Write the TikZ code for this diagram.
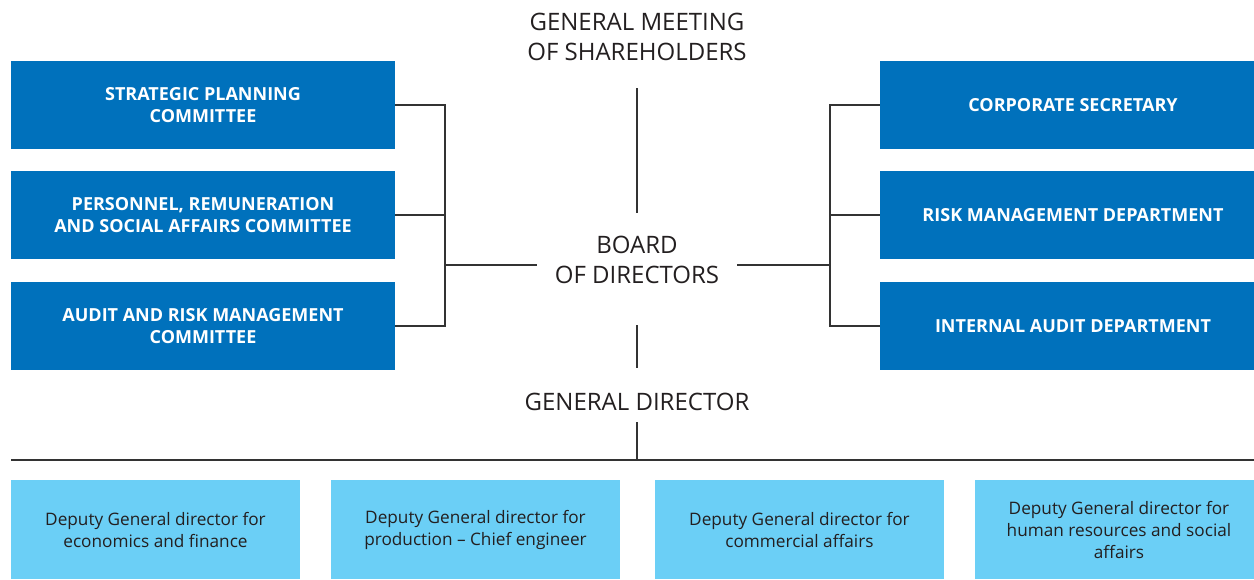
\documentclass[tikz,border=0pt]{standalone}
\usepackage{fontspec}
\setmainfont{Open Sans}
\definecolor{dblue}{HTML}{0071BC}
\definecolor{lblue}{HTML}{6BCFF6}
\definecolor{ink}{HTML}{231F20}
\definecolor{linec}{HTML}{333333}
\begin{document}
\begin{tikzpicture}[x=1pt,y=-1pt,
  title/.style={align=center,text=ink,font=\fontsize{24}{29.5}\selectfont,inner sep=0pt},
  topbox/.style={fill=dblue,text=white,align=center,font=\bfseries\fontsize{18}{22}\selectfont,inner sep=0pt,minimum height=88},
  lbox/.style={topbox,minimum width=384},
  rbox/.style={topbox,minimum width=386},
  deputy/.style={fill=lblue,text=ink,align=center,font=\fontsize{17.2}{22}\selectfont,inner sep=0pt,minimum height=99},
  conn/.style={draw=linec,line width=1.6pt}]
\useasboundingbox (0,0) rectangle (1254,579);
% titles
\node[title] (meet) at (637,37) {GENERAL MEETING\\OF SHAREHOLDERS};
\node[title,inner xsep=18pt] (board) at (637,260) {BOARD\\OF DIRECTORS};
\node[title] (gd) at (637,402) {GENERAL DIRECTOR};
% left committees
\node[lbox] (sp) at (203,105) {STRATEGIC PLANNING\\COMMITTEE};
\node[lbox] (pr) at (203,215) {PERSONNEL, REMUNERATION\\AND SOCIAL AFFAIRS COMMITTEE};
\node[lbox] (ar) at (203,326) {AUDIT AND RISK MANAGEMENT\\COMMITTEE};
% right departments
\node[rbox] (cs) at (1073,105) {CORPORATE SECRETARY};
\node[rbox] (rm) at (1073,215) {RISK MANAGEMENT DEPARTMENT};
\node[rbox] (ia) at (1073,326) {INTERNAL AUDIT DEPARTMENT};
% deputies
\node[deputy,minimum width=289] (d1) at (155.5,529.5) {Deputy General director for\\economics and finance};
\node[deputy,minimum width=289] (d2) at (475.5,529.5) {Deputy General director for\\production -- Chief engineer};
\node[deputy,minimum width=289] (d3) at (799.5,529.5) {Deputy General director for\\commercial affairs};
\node[deputy,minimum width=288] (d4) at (1119,529.5) {Deputy General director for\\human resources and social\\affairs};
% connectors
\coordinate (lbus) at (445,265);
\coordinate (rbus) at (830,265);
\draw[conn] (sp.east) -| (lbus |- ar.east) -- (ar.east);
\draw[conn] (pr.east) -- (lbus |- pr.east);
\draw[conn] (lbus) -- (board.west |- lbus);
\draw[conn] (cs.west) -| (rbus |- ia.west) -- (ia.west);
\draw[conn] (rm.west) -- (rbus |- rm.west);
\draw[conn] (rbus) -- (board.east |- rbus);
\draw[conn] (meet.south |- 0,88) -- (board.north |- 0,213);
\draw[conn] (board.south |- 0,325) -- (gd.north |- 0,368);
\coordinate (hl) at (11,460);
\coordinate (hr) at (1254,460);
\draw[conn] (gd.south |- 0,422) -- (gd.south |- hl);
\draw[conn] (hl) -- (hr);
\end{tikzpicture}
\end{document}
